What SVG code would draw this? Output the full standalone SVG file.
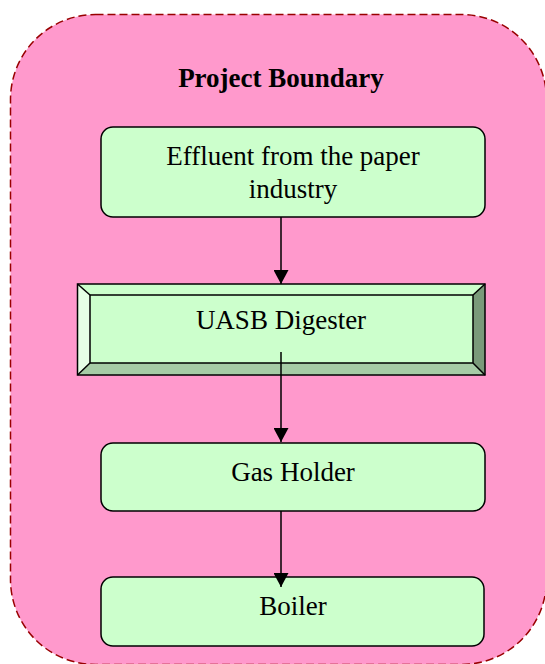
<svg xmlns="http://www.w3.org/2000/svg" width="545" height="664" viewBox="0 0 545 664">
  <style>
    .label { font-family: "Liberation Serif", "Times New Roman", serif; font-size: 27px; fill: #000; text-anchor: middle; }
    .title { font-family: "Liberation Serif", "Times New Roman", serif; font-size: 27px; font-weight: bold; fill: #000; text-anchor: middle; }
    .box { fill: #ccffcc; stroke: #000; stroke-width: 1.5; }
    .edge { stroke: #000; stroke-width: 1.5; fill: none; }
  </style>
  <defs>
    <marker id="arrow" markerWidth="14" markerHeight="15" refX="14" refY="7.5" orient="auto" markerUnits="userSpaceOnUse">
      <path d="M0,0 L14,7.5 L0,15 Z" fill="#000"/>
    </marker>
  </defs>

  <!-- project boundary -->
  <g id="boundary">
    <rect x="10.5" y="14.5" width="536" height="650" rx="85" ry="85" fill="#ff99cc" stroke="#990000" stroke-width="1.5" stroke-dasharray="8,4"/>
    <text class="title" x="281" y="87">Project Boundary</text>
  </g>

  <!-- effluent source -->
  <g id="effluent">
    <rect class="box" x="101" y="127" width="384" height="90" rx="12" ry="12"/>
    <text class="label" x="293" y="165">Effluent from the paper</text>
    <text class="label" x="293" y="198">industry</text>
  </g>

  <!-- digester (bevelled box) -->
  <g id="uasb">
    <polygon points="77.5,284 485,284 473,295 90,295" fill="#ccffcc"/>
    <polygon points="77.5,284 90,295 90,363 77.5,375" fill="#e6ffe6"/>
    <polygon points="485,284 485,375 473,363 473,295" fill="#7a9a7a"/>
    <polygon points="77.5,375 90,363 473,363 485,375" fill="#a6cca6"/>
    <rect x="90" y="295" width="383" height="68" fill="#ccffcc"/>
    <g fill="none" stroke="#000" stroke-width="1.5">
      <rect x="77.5" y="284" width="407.5" height="91"/>
      <rect x="90" y="295" width="383" height="68"/>
      <line x1="77.5" y1="284" x2="90" y2="295"/>
      <line x1="485" y1="284" x2="473" y2="295"/>
      <line x1="77.5" y1="375" x2="90" y2="363"/>
      <line x1="485" y1="375" x2="473" y2="363"/>
    </g>
    <text class="label" x="281" y="329">UASB Digester</text>
  </g>

  <!-- gas holder -->
  <g id="gas-holder">
    <rect class="box" x="101" y="443" width="384" height="68" rx="12" ry="12"/>
    <text class="label" x="293" y="481">Gas Holder</text>
  </g>

  <!-- boiler -->
  <g id="boiler">
    <rect class="box" x="101" y="577" width="383" height="69" rx="12" ry="12"/>
    <text class="label" x="293" y="615">Boiler</text>
  </g>

  <!-- connectors, drawn over the boxes -->
  <g id="connectors">
    <line class="edge" x1="281" y1="217" x2="281" y2="284" marker-end="url(#arrow)"/>
    <line class="edge" x1="281" y1="352" x2="281" y2="442" marker-end="url(#arrow)"/>
    <line class="edge" x1="281" y1="511" x2="281" y2="587" marker-end="url(#arrow)"/>
  </g>
</svg>
